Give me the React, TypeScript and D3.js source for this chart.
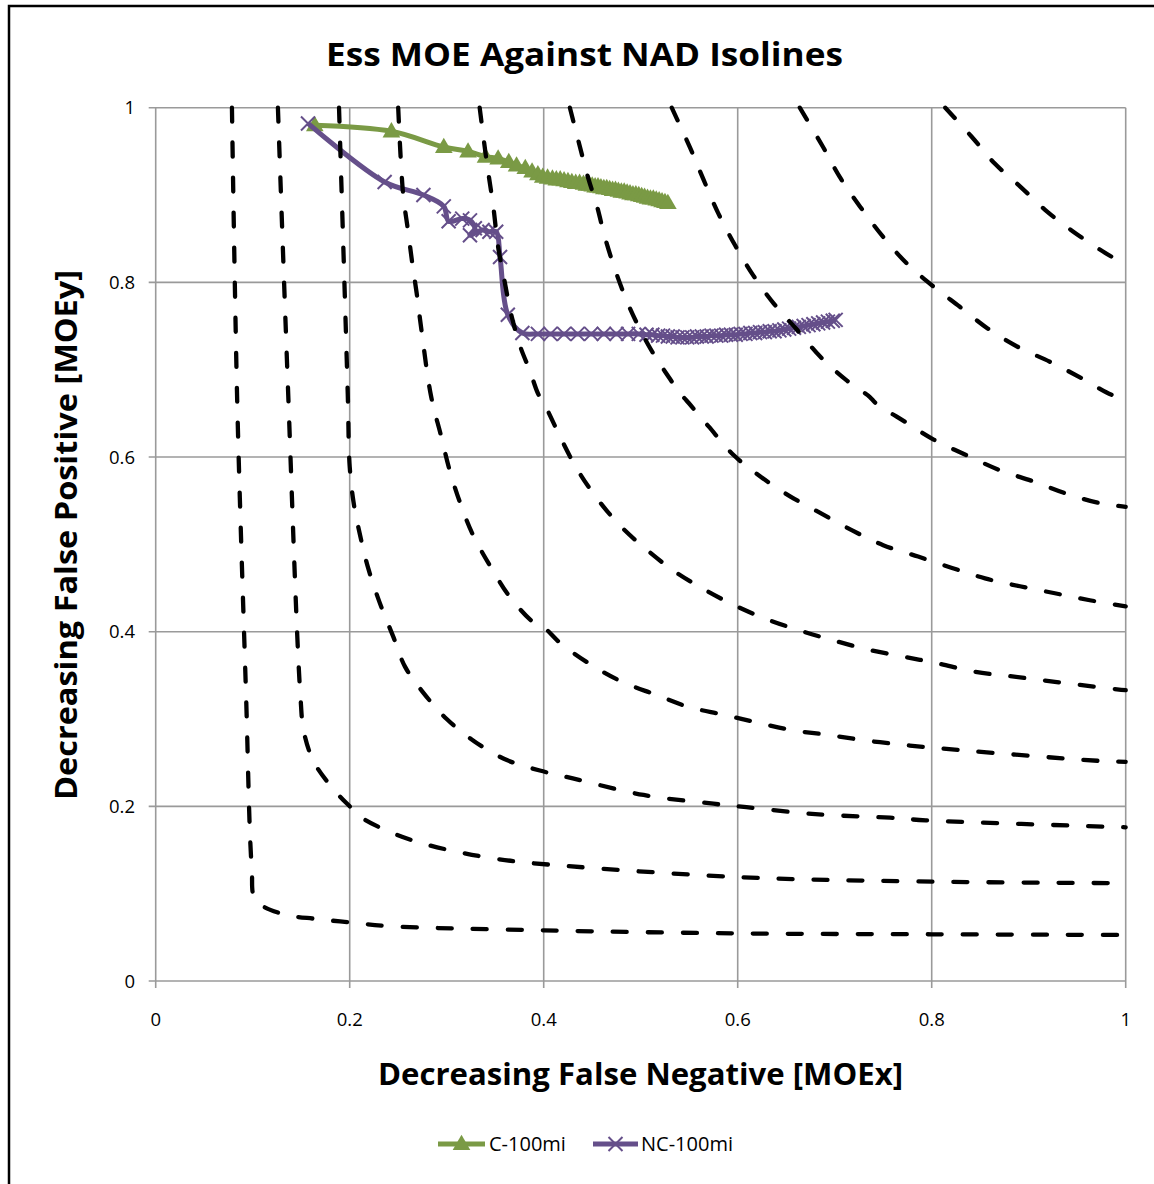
import React from "react";
import * as d3 from "d3";

// ---------- data ----------
const xTicks = [0, 0.2, 0.4, 0.6, 0.8, 1];
const yTicks = [0, 0.2, 0.4, 0.6, 0.8, 1];
const xTickLabels = ["0", "0.2", "0.4", "0.6", "0.8", "1"];
const yTickLabels = ["0", "0.2", "0.4", "0.6", "0.8", "1"];

const seriesNames = ["C-100mi", "NC-100mi"];

const cX = [0.164, 0.243, 0.297, 0.322, 0.340, 0.353, 0.364, 0.372, 0.381, 0.388, 0.394, 0.399, 0.404, 0.409, 0.413, 0.417, 0.421, 0.425, 0.429, 0.433, 0.437, 0.441, 0.444, 0.447, 0.450, 0.453, 0.456, 0.459, 0.462, 0.465, 0.468, 0.471, 0.474, 0.477, 0.480, 0.483, 0.486, 0.489, 0.492, 0.495, 0.498, 0.501, 0.504, 0.507, 0.510, 0.513, 0.516, 0.519, 0.522, 0.525, 0.528];
const cY = [0.980, 0.973, 0.955, 0.950, 0.944, 0.942, 0.938, 0.934, 0.931, 0.927, 0.924, 0.921, 0.920, 0.919, 0.918, 0.918, 0.917, 0.916, 0.915, 0.914, 0.914, 0.913, 0.912, 0.912, 0.911, 0.910, 0.910, 0.909, 0.908, 0.908, 0.907, 0.906, 0.906, 0.905, 0.904, 0.904, 0.903, 0.902, 0.901, 0.901, 0.900, 0.899, 0.898, 0.897, 0.896, 0.896, 0.895, 0.894, 0.893, 0.892, 0.891];

const ncX = [0.157, 0.236, 0.276, 0.297, 0.302, 0.316, 0.324, 0.329, 0.324, 0.337, 0.344, 0.351, 0.355, 0.363, 0.378, 0.394, 0.407, 0.421, 0.435, 0.449, 0.462, 0.475, 0.487, 0.498, 0.506, 0.512, 0.518, 0.523, 0.528, 0.533, 0.538, 0.543, 0.548, 0.553, 0.558, 0.563, 0.568, 0.573, 0.578, 0.583, 0.588, 0.593, 0.598, 0.603, 0.608, 0.613, 0.618, 0.623, 0.628, 0.633, 0.638, 0.643, 0.648, 0.653, 0.658, 0.663, 0.668, 0.673, 0.678, 0.683, 0.688, 0.693, 0.698, 0.701];
const ncY = [0.982, 0.915, 0.900, 0.887, 0.870, 0.873, 0.871, 0.862, 0.854, 0.860, 0.858, 0.858, 0.829, 0.763, 0.742, 0.741, 0.741, 0.741, 0.741, 0.741, 0.741, 0.741, 0.741, 0.741, 0.740, 0.740, 0.739, 0.739, 0.738, 0.738, 0.737, 0.737, 0.737, 0.737, 0.738, 0.738, 0.738, 0.739, 0.739, 0.739, 0.740, 0.740, 0.740, 0.741, 0.741, 0.742, 0.742, 0.743, 0.743, 0.744, 0.744, 0.745, 0.746, 0.747, 0.748, 0.749, 0.750, 0.751, 0.752, 0.753, 0.754, 0.755, 0.756, 0.757];

// NAD isolines (x, y) pairs
const isoline1 = [[0.0786, 1.0], [0.084, 0.665], [0.093, 0.333], [0.099, 0.13], [0.103, 0.093], [0.13, 0.077], [0.166, 0.071], [0.202, 0.067], [0.238, 0.063], [0.4, 0.058], [0.6, 0.0545], [0.8, 0.0535], [1.0, 0.0527]];
const isoline2 = [[0.126, 1.0], [0.136, 0.69], [0.149, 0.33], [0.153, 0.284], [0.164, 0.249], [0.187, 0.215], [0.2, 0.2], [0.211, 0.188], [0.245, 0.169], [0.28, 0.156], [0.315, 0.147], [0.35, 0.14], [0.388, 0.135], [0.6, 0.119], [0.786, 0.114], [1.0, 0.112]];
const isoline3 = [[0.189, 1.0], [0.198, 0.672], [0.2, 0.589], [0.204, 0.548], [0.211, 0.509], [0.219, 0.473], [0.231, 0.433], [0.245, 0.394], [0.257, 0.36], [0.276, 0.33], [0.3, 0.3], [0.329, 0.274], [0.362, 0.253], [0.396, 0.241], [0.43, 0.232], [0.503, 0.213], [0.575, 0.203], [0.609, 0.199], [0.68, 0.191], [0.757, 0.187], [0.794, 0.184], [1.0, 0.176]];
const isoline4 = [[0.25, 1.0], [0.255, 0.902], [0.26, 0.86], [0.265, 0.818], [0.269, 0.788], [0.274, 0.745], [0.284, 0.669], [0.294, 0.625], [0.303, 0.585], [0.314, 0.547], [0.327, 0.511], [0.346, 0.473], [0.365, 0.44], [0.389, 0.411], [0.401, 0.404], [0.417, 0.387], [0.449, 0.362], [0.48, 0.343], [0.515, 0.328], [0.549, 0.314], [0.585, 0.305], [0.62, 0.296], [0.657, 0.287], [0.692, 0.282], [0.728, 0.276], [0.766, 0.271], [0.802, 0.267], [0.974, 0.252], [1.0, 0.251]];
const isoline5 = [[0.334, 1.0], [0.341, 0.94], [0.348, 0.887], [0.353, 0.841], [0.358, 0.811], [0.367, 0.761], [0.376, 0.726], [0.386, 0.698], [0.394, 0.673], [0.401, 0.66], [0.417, 0.623], [0.434, 0.587], [0.456, 0.551], [0.48, 0.52], [0.506, 0.494], [0.535, 0.469], [0.566, 0.448], [0.599, 0.429], [0.633, 0.413], [0.668, 0.4], [0.702, 0.389], [0.736, 0.379], [0.773, 0.371], [0.805, 0.364], [0.845, 0.354], [0.881, 0.349], [0.917, 0.344], [0.953, 0.339], [0.991, 0.334], [1.0, 0.333]];
const isoline6 = [[0.427, 1.0], [0.436, 0.961], [0.446, 0.919], [0.455, 0.887], [0.463, 0.852], [0.475, 0.81], [0.489, 0.77], [0.508, 0.728], [0.525, 0.698], [0.542, 0.671], [0.547, 0.665], [0.57, 0.635], [0.596, 0.602], [0.623, 0.578], [0.654, 0.555], [0.685, 0.536], [0.718, 0.516], [0.75, 0.499], [0.786, 0.486], [0.821, 0.473], [0.855, 0.461], [0.891, 0.452], [0.927, 0.444], [0.963, 0.436], [1.0, 0.429]];
const isoline7 = [[0.532, 1.0], [0.551, 0.954], [0.565, 0.917], [0.58, 0.879], [0.597, 0.843], [0.616, 0.808], [0.637, 0.776], [0.661, 0.746], [0.685, 0.715], [0.712, 0.688], [0.736, 0.669], [0.742, 0.662], [0.773, 0.64], [0.802, 0.62], [0.836, 0.602], [0.87, 0.585], [0.905, 0.572], [0.939, 0.558], [0.974, 0.547], [1.0, 0.543]];
const isoline8 = [[0.664, 1.0], [0.688, 0.955], [0.705, 0.921], [0.726, 0.887], [0.75, 0.852], [0.774, 0.822], [0.802, 0.795], [0.829, 0.772], [0.858, 0.747], [0.889, 0.726], [0.922, 0.709], [0.955, 0.69], [0.986, 0.671], [1.0, 0.668]];
const isoline9 = [[0.814, 1.0], [0.841, 0.967], [0.865, 0.936], [0.891, 0.91], [0.919, 0.881], [0.946, 0.858], [0.977, 0.835], [1.0, 0.82]];
const isolines = [isoline1, isoline2, isoline3, isoline4, isoline5, isoline6, isoline7, isoline8, isoline9];

// ---------- layout ----------
const W = 1154;
const H = 1184;
const GREEN = "#7a9a45";
const PURPLE = "#654f8a";
const FONT = "'Open Sans', 'Liberation Sans', sans-serif";

export default function App() {
  const x = d3.scaleLinear().domain([0, 1]).range([155.7, 1125.7]);
  const y = d3.scaleLinear().domain([0, 1]).range([981, 107.7]);

  const cPts = cX.map((v, i) => [v, cY[i]]);
  const ncPts = ncX.map((v, i) => [v, ncY[i]]);

  const smooth = d3
    .line<number[]>()
    .x((d) => x(d[0]))
    .y((d) => y(d[1]))
    .curve(d3.curveCatmullRom.alpha(0.5));

  const tri = d3.symbol().type(d3.symbolTriangle).size(135)() as string;
  const xMark = "M-7,-7L7,7M-7,7L7,-7";

  return (
    <svg
      width={W}
      height={H}
      style={{ position: "absolute", left: 0, top: 0, background: "#fff" }}
      fontFamily={FONT}
    >
      <rect x={0} y={0} width={W} height={H} fill="#fff" />
      <rect x={9} y={6} width={W + 20} height={H + 20} fill="none" stroke="#000" strokeWidth={2.5} />

      {/* gridlines */}
      {xTicks.map((t) => (
        <line key={"gx" + t} x1={x(t)} x2={x(t)} y1={y(1)} y2={y(0) + 7} stroke="#9a9a9a" strokeWidth={1.6} />
      ))}
      {yTicks.map((t) => (
        <line key={"gy" + t} x1={x(0) - 7} x2={x(1)} y1={y(t)} y2={y(t)} stroke="#9a9a9a" strokeWidth={1.6} />
      ))}

      {/* tick labels */}
      {xTicks.map((t, i) => (
        <text key={"tx" + t} x={x(t)} y={1026} textAnchor="middle" fontSize={18.5} fill="#000">
          {xTickLabels[i]}
        </text>
      ))}
      {yTicks.map((t, i) => (
        <text key={"ty" + t} x={135} y={y(t) + 6.5} textAnchor="end" fontSize={18.5} fill="#000">
          {yTickLabels[i]}
        </text>
      ))}

      {/* series C */}
      <path d={smooth(cPts) || ""} fill="none" stroke={GREEN} strokeWidth={5} strokeLinejoin="round" />
      {cPts.map((p, i) => (
        <path key={"c" + i} d={tri} transform={`translate(${x(p[0])},${y(p[1]) + 1})`} fill={GREEN} />
      ))}

      {/* series NC */}
      <path d={smooth(ncPts) || ""} fill="none" stroke={PURPLE} strokeWidth={5} strokeLinejoin="round" />
      {ncPts.map((p, i) => (
        <path key={"n" + i} d={xMark} transform={`translate(${x(p[0])},${y(p[1])})`} stroke={PURPLE} strokeWidth={2} fill="none" />
      ))}

      {/* isolines */}
      {isolines.map((iso, i) => (
        <path
          key={"iso" + i}
          d={smooth(iso) || ""}
          fill="none"
          stroke="#000"
          strokeWidth={4.3}
          strokeDasharray="14 21"
          strokeLinecap="round"
        />
      ))}

      {/* titles */}
      <text x={584.5} y={66} textAnchor="middle" fontSize={32} fontWeight="bold" textLength={517} lengthAdjust="spacingAndGlyphs">
        Ess MOE Against NAD Isolines
      </text>
      <text x={640.5} y={1085} textAnchor="middle" fontSize={30} fontWeight="bold" textLength={525} lengthAdjust="spacingAndGlyphs">
        Decreasing False Negative [MOEx]
      </text>
      <text
        transform="translate(77,535) rotate(-90)"
        textAnchor="middle"
        fontSize={30}
        fontWeight="bold"
        textLength={530}
        lengthAdjust="spacingAndGlyphs"
      >
        Decreasing False Positive [MOEy]
      </text>

      {/* legend */}
      <line x1={438} x2={485} y1={1144} y2={1144} stroke={GREEN} strokeWidth={5} />
      <path d={tri} transform="translate(461.5,1145)" fill={GREEN} />
      <text x={489} y={1151} fontSize={20}>{seriesNames[0]}</text>
      <line x1={593} x2={638} y1={1144} y2={1144} stroke={PURPLE} strokeWidth={5} />
      <path d={xMark} transform="translate(615.5,1144)" stroke={PURPLE} strokeWidth={2} fill="none" />
      <text x={641} y={1151} fontSize={20}>{seriesNames[1]}</text>
    </svg>
  );
}
